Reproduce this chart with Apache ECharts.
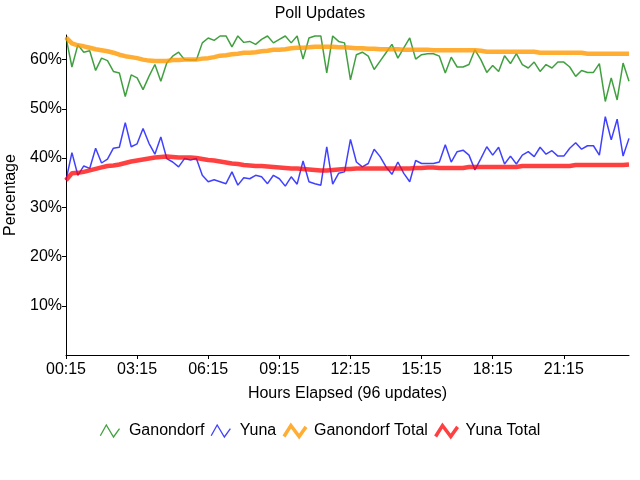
<!DOCTYPE html>
<html>
<head>
<meta charset="utf-8">
<script src="https://cdn.jsdelivr.net/npm/echarts@6/dist/echarts.min.js"></script>
<style>
html,body{margin:0;padding:0;background:#fff;}
#chart{width:640px;height:480px;}
</style>
</head>
<body>
<div id="chart"></div>
<script>
const categories = [
"00:15","00:30","00:45","01:00","01:15","01:30","01:45","02:00","02:15","02:30","02:45","03:00",
"03:15","03:30","03:45","04:00","04:15","04:30","04:45","05:00","05:15","05:30","05:45","06:00",
"06:15","06:30","06:45","07:00","07:15","07:30","07:45","08:00","08:15","08:30","08:45","09:00",
"09:15","09:30","09:45","10:00","10:15","10:30","10:45","11:00","11:15","11:30","11:45","12:00",
"12:15","12:30","12:45","13:00","13:15","13:30","13:45","14:00","14:15","14:30","14:45","15:00",
"15:15","15:30","15:45","16:00","16:15","16:30","16:45","17:00","17:15","17:30","17:45","18:00",
"18:15","18:30","18:45","19:00","19:15","19:30","19:45","20:00","20:15","20:30","20:45","21:00",
"21:15","21:30","21:45","22:00","22:15","22:30","22:45","23:00","23:15","23:30","23:45","24:00"];

const ganondorf = [
64.5,58.5,63.0,61.5,61.8,57.8,60.3,59.8,57.6,57.3,52.5,56.9,
56.3,53.9,56.6,59.0,55.6,59.3,60.7,61.5,60.0,59.9,59.9,63.4,
64.4,63.9,64.8,64.8,62.6,64.8,63.5,63.7,63.1,64.1,64.8,63.4,
64.1,64.8,63.4,64.8,60.1,64.4,64.8,64.8,57.3,64.8,63.7,63.4,
55.9,61.0,61.5,60.7,58.0,59.7,61.4,63.1,60.3,62.4,64.4,60.1,
61.0,61.2,61.2,60.7,57.3,60.5,58.5,58.5,59.0,62.0,60.0,57.4,
58.8,57.6,60.8,59.2,61.2,59.0,58.3,59.5,57.6,59.0,58.3,59.5,
59.5,58.5,56.6,57.8,57.4,57.4,59.2,51.5,56.3,51.8,59.3,55.6];

const yuna = [
35.5,41.1,36.5,38.4,37.9,42.0,39.0,39.8,42.0,42.2,47.2,42.3,
42.9,46.0,43.0,40.8,44.3,39.9,39.2,38.2,39.9,39.6,39.9,36.5,
35.2,35.6,35.2,34.8,37.2,34.5,36.0,35.8,36.5,36.2,34.8,36.5,
35.8,34.3,36.2,34.7,39.4,35.2,34.8,34.5,42.3,34.7,36.9,37.2,
43.8,39.2,38.2,38.9,41.8,40.3,38.2,36.7,39.2,36.9,35.2,39.5,
38.9,38.9,38.9,39.2,42.7,39.2,41.3,41.6,40.6,37.6,39.9,42.3,
40.6,42.2,38.8,40.4,38.8,40.6,41.3,40.3,42.2,40.8,41.5,40.4,
40.4,42.0,43.1,41.8,42.5,42.5,40.6,48.4,43.7,47.9,40.4,44.0];

const ganondorfTotal = [
64.5,63.3,62.9,62.7,62.4,62.1,61.9,61.7,61.4,61.0,60.7,60.5,
60.3,60.0,59.8,59.7,59.7,59.7,59.9,59.9,60.0,60.0,60.0,60.2,
60.3,60.5,60.8,60.9,61.1,61.2,61.4,61.4,61.5,61.7,61.8,62.0,
62.0,62.1,62.3,62.4,62.4,62.5,62.6,62.6,62.6,62.6,62.5,62.5,
62.4,62.3,62.3,62.2,62.2,62.1,62.1,62.1,62.1,62.0,62.0,62.0,
62.0,62.0,61.9,61.9,61.9,61.9,61.9,61.9,61.9,61.9,61.8,61.6,
61.6,61.6,61.6,61.6,61.6,61.6,61.6,61.6,61.4,61.4,61.4,61.4,
61.4,61.4,61.4,61.4,61.2,61.2,61.2,61.2,61.2,61.2,61.2,61.2];

const yunaTotal = [
35.5,36.9,37.0,37.2,37.5,37.8,38.1,38.4,38.5,38.7,39.0,39.3,
39.5,39.7,39.9,40.1,40.2,40.3,40.2,40.1,40.1,40.1,40.0,39.8,
39.6,39.5,39.3,39.1,38.9,38.8,38.6,38.5,38.4,38.4,38.3,38.2,
38.1,38.0,37.9,37.9,37.8,37.7,37.6,37.5,37.5,37.6,37.7,37.8,
37.8,37.9,37.9,37.9,37.9,37.9,37.9,37.9,37.9,37.9,37.9,38.0,
38.0,38.1,38.1,38.0,38.0,38.0,38.0,38.0,38.2,38.2,38.2,38.2,
38.2,38.2,38.2,38.2,38.2,38.4,38.4,38.4,38.4,38.4,38.4,38.4,
38.4,38.4,38.6,38.6,38.6,38.6,38.6,38.6,38.6,38.6,38.6,38.7];

const yTickValues = [10, 20, 30, 40, 50, 60];
const seriesNames = ["Ganondorf", "Yuna", "Ganondorf Total", "Yuna Total"];

const FONT = "'Liberation Sans', Arial, sans-serif";
const colors = ["rgba(0,128,0,0.75)", "rgba(0,0,255,0.75)", "rgba(255,153,0,0.8)", "rgba(255,0,0,0.75)"];
const widths = [1.5, 1.5, 4.5, 4.5];
const thinIcon = "path://M0,10 L5,1 L11,11 L16,4";
const thickIcon = "path://M0,10 L5,2 L11,10 L16,3";

const chart = echarts.init(document.getElementById('chart'), null, {renderer: 'canvas'});
const dataArrays = [ganondorf, yuna, ganondorfTotal, yunaTotal];

chart.setOption({
  animation: false,
  backgroundColor: '#fff',
  textStyle: {fontFamily: FONT, color: '#000'},
  title: {
    text: 'Poll Updates',
    left: 'center',
    top: 1,
    textStyle: {fontFamily: FONT, fontSize: 16, fontWeight: 'normal', color: '#000'}
  },
  legend: {
    top: 418,
    left: 'center',
    itemWidth: 22,
    itemHeight: 12,
    itemGap: 6,
    textStyle: {fontFamily: FONT, fontSize: 16, color: '#000', padding: [0, 0, 0, 3]},
    data: seriesNames.map((n, i) => ({
      name: n,
      icon: i < 2 ? thinIcon : thickIcon,
      itemStyle: {color: 'rgba(0,0,0,0)', borderColor: colors[i], borderWidth: i < 2 ? 1.3 : 3.5}
    }))
  },
  grid: {left: 66, right: 11, top: 35, bottom: 125, containLabel: false, outerBoundsMode: 'none'},
  xAxis: {
    type: 'category',
    data: categories,
    boundaryGap: false,
    name: 'Hours Elapsed (96 updates)',
    nameLocation: 'middle',
    nameGap: 31,
    nameTextStyle: {fontFamily: FONT, fontSize: 16, color: '#000'},
    axisLine: {lineStyle: {color: '#000', width: 1}},
    axisTick: {interval: 11, length: 4, lineStyle: {color: '#000'}},
    axisLabel: {interval: 11, margin: 7, fontFamily: FONT, fontSize: 16, color: '#000'},
    splitLine: {show: false}
  },
  yAxis: {
    type: 'value',
    min: 0,
    max: 65,
    interval: 10,
    name: 'Percentage',
    nameLocation: 'middle',
    nameGap: 42,
    nameTextStyle: {fontFamily: FONT, fontSize: 16, color: '#000'},
    axisLine: {show: true, lineStyle: {color: '#000', width: 1}},
    axisTick: {show: true, length: 4, lineStyle: {color: '#000'}, customValues: yTickValues},
    axisLabel: {
      margin: 4, fontFamily: FONT, fontSize: 16, color: '#000',
      customValues: yTickValues,
      formatter: v => (v > 0 && v % 10 === 0) ? v + '%' : ''
    },
    splitLine: {show: false}
  },
  series: seriesNames.map((n, i) => ({
    name: n,
    type: 'line',
    data: dataArrays[i],
    symbol: 'none',
    z: 2,
    lineStyle: {color: colors[i], width: widths[i]},
    itemStyle: {color: colors[i]},
    emphasis: {disabled: true}
  }))
});
</script>
</body>
</html>
